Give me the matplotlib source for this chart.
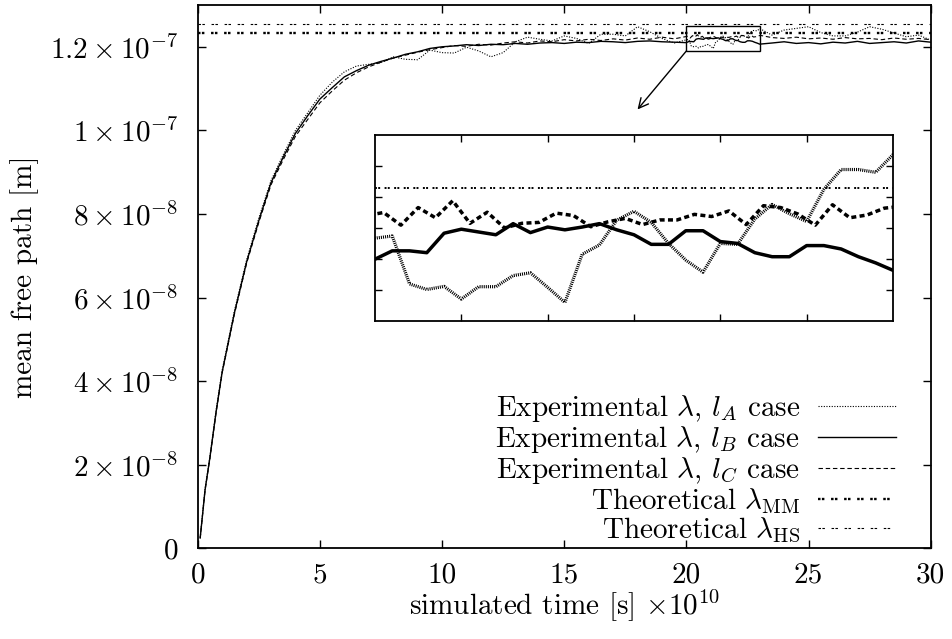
import numpy as np
import matplotlib
matplotlib.use('Agg')
import matplotlib.pyplot as plt
from matplotlib.patches import Rectangle

plt.rcParams['font.family'] = 'serif'
plt.rcParams['font.serif'] = ['cmr10']
plt.rcParams['mathtext.fontset'] = 'cm'
plt.rcParams['axes.unicode_minus'] = False
plt.rcParams['lines.scale_dashes'] = False

# tempos de amostragem (x 1e-10 s)
t_inicio = np.r_[0.1, 0.3, 0.5, 0.75, np.arange(1.0, 19.51, 0.5)]
t_zoom = np.linspace(20.0, 23.0, 31)
t_zoom_c = np.linspace(19.95, 23.05, 32)
t_fim = np.arange(23.5, 30.01, 0.5)

# livre caminho medio em nm
lA_inicio = [2.6, 14.3, 22.0, 33.0, 42.6, 56.8, 69.0, 79.0, 88.0, 94.2, 100.0, 104.2,
             108.4, 111.5, 114.0, 115.4, 115.8, 116.2, 117.6, 117.0, 116.9, 119.2,
             118.6, 118.5, 119.9, 119.0, 117.6, 118.6, 121.2, 122.3, 121.8, 121.4,
             122.6, 122.0, 120.8, 123.0, 123.0, 122.6, 124.8, 123.6, 122.0, 120.9]
lA_zoom = [121.67, 121.74, 120.19, 120.01, 120.11, 119.70, 120.10, 120.10, 120.46, 120.55,
           120.08, 119.59, 121.15, 121.45, 122.25, 122.54, 122.18, 121.50, 120.96, 120.57,
           121.50, 121.47, 122.29, 122.76, 122.46, 122.21, 123.25, 123.89, 123.89, 123.80,
           124.37]
lA_fim = [122.8, 124.0, 124.4, 124.8, 123.4, 122.6, 122.6, 123.5, 124.8, 124.2,
          123.3, 122.4, 122.8, 121.6]

lB_inicio = [2.5, 14.0, 21.8, 32.6, 42.2, 56.3, 68.5, 78.4, 87.5, 93.6, 99.3, 103.5,
             107.5, 110.2, 112.8, 114.3, 115.6, 116.5, 117.3, 118.2, 118.8, 119.6,
             120.0, 120.2, 120.5, 120.3, 120.6, 120.5, 120.8, 120.6, 120.9, 121.0,
             120.8, 121.1, 121.0, 121.3, 121.2, 121.0, 121.3, 121.4, 121.2, 121.1]
lB_zoom = [120.99, 121.26, 121.26, 121.20, 121.83, 121.96, 121.87, 121.78, 122.14, 121.85,
           122.03, 121.94, 122.03, 122.14, 121.94, 121.78, 121.47, 121.47, 121.91, 121.91,
           121.56, 121.50, 121.20, 121.07, 121.07, 121.43, 121.43, 121.32, 121.07, 120.87,
           120.63]
lB_fim = [120.9, 121.2, 120.8, 121.0, 120.7, 121.1, 120.9, 121.3, 120.8, 121.0,
          121.2, 120.9, 121.4, 121.1]

lC_inicio = [2.4, 13.9, 21.6, 32.4, 42.0, 56.0, 68.2, 78.0, 87.0, 93.0, 98.6, 102.6,
             106.6, 109.4, 112.0, 113.8, 115.2, 116.3, 117.3, 118.0, 118.7, 119.3,
             119.8, 120.3, 120.1, 120.6, 120.4, 120.9, 121.2, 120.9, 121.4, 121.2,
             121.7, 121.4, 121.8, 121.5, 121.9, 121.6, 122.1, 121.8, 122.3, 121.9]
lC_zoom = [122.4, 122.5, 122.09, 122.66, 122.33, 122.88, 122.15, 122.51, 122.0, 122.15,
           122.18, 122.48, 122.40, 122.04, 122.20, 122.31, 122.11, 122.26, 122.26, 122.44,
           122.37, 122.55, 122.11, 122.72, 122.66, 122.45, 122.09, 122.75, 122.33, 122.42,
           122.64, 122.7]
lC_fim = [122.2, 122.0, 122.3, 121.9, 122.1, 121.8, 122.2, 121.9, 122.0, 121.7,
          122.1, 121.8, 122.0, 121.7]

lambda_mm = 123.28
lambda_hs = 125.4

rotulos = [r'Experimental $\lambda$, $l_A$ case',
           r'Experimental $\lambda$, $l_B$ case',
           r'Experimental $\lambda$, $l_C$ case',
           r'Theoretical $\lambda_{\mathrm{MM}}$',
           r'Theoretical $\lambda_{\mathrm{HS}}$']

y_ticks = [0, 2e-8, 4e-8, 6e-8, 8e-8, 1e-7, 1.2e-7]
y_rotulos = [r'$0$', r'$2\times10^{-8}$', r'$4\times10^{-8}$', r'$6\times10^{-8}$',
             r'$8\times10^{-8}$', r'$1\times10^{-7}$', r'$1.2\times10^{-7}$']

tA = np.r_[t_inicio, t_zoom, t_fim]
tC = np.r_[t_inicio, t_zoom_c, t_fim]
yA = np.r_[lA_inicio, lA_zoom, lA_fim] * 1e-9
yB = np.r_[lB_inicio, lB_zoom, lB_fim] * 1e-9
yC = np.r_[lC_inicio, lC_zoom, lC_fim] * 1e-9

fs = 21

fig = plt.figure(figsize=(9.53, 6.39), dpi=100)
ax = fig.add_axes([0.2075, 0.1419, 0.7691, 0.8503])

ax.plot(tA, yA, color='black', lw=0.8, ls=(0, (0.8, 1.1)), label=rotulos[0])
ax.plot(tA, yB, color='black', lw=1.0, ls='-', label=rotulos[1])
ax.plot(tC, yC, color='black', lw=0.8, ls=(0, (3.2, 2.0)), label=rotulos[2])
ax.axhline(lambda_mm * 1e-9, color='black', lw=1.7, ls=(0, (1.8, 1.0, 1.8, 4.8)), label=rotulos[3])
ax.axhline(lambda_hs * 1e-9, color='black', lw=0.8, ls=(0, (1.8, 1.0, 1.8, 4.8)), label=rotulos[4])

ax.set_xlim(0, 30)
ax.set_ylim(0, 1.3e-7)
ax.set_xticks([0, 5, 10, 15, 20, 25, 30])
ax.set_yticks(y_ticks)
ax.set_yticklabels(y_rotulos)
ax.tick_params(direction='in', top=True, right=True, length=6, width=1.0, labelsize=fs)
ax.tick_params(axis='y', pad=14)
ax.tick_params(axis='x', pad=10)
for s in ax.spines.values():
    s.set_linewidth(1.3)

ax.set_xlabel(r'simulated time [s] $\times10^{10}$', fontsize=fs, labelpad=-1)
ax.set_ylabel('mean free path [m]', fontsize=fs, labelpad=8)

leg = ax.legend(loc='lower right', frameon=False, markerfirst=False, fontsize=fs,
                handlelength=2.7, handletextpad=0.6, labelspacing=0.0,
                borderaxespad=0.0, bbox_to_anchor=(0.969, -0.016))

# caixa e seta da regiao ampliada
x0, x1 = 20, 23
y0, y1 = 119e-9, 125e-9
ax.add_patch(Rectangle((x0, y0), x1 - x0, y1 - y0, fill=False, lw=1.0, color='black'))
ax.annotate('', xy=(18, 105e-9), xytext=(x0, y0),
            arrowprops=dict(arrowstyle='->,head_length=0.7,head_width=0.35',
                            lw=1.0, color='black', shrinkA=0, shrinkB=0))

# grafico ampliado
axi = fig.add_axes([0.3935, 0.4981, 0.5435, 0.2903])
axi.plot(tA, yA, color='black', lw=2.3, ls=(0, (0.75, 0.75)))
axi.plot(tA, yB, color='black', lw=2.5, ls='-')
axi.plot(tC, yC, color='black', lw=2.5, ls=(0, (3.6, 2.4)))
axi.axhline(lambda_mm * 1e-9, color='black', lw=1.4, ls=(0, (1.4, 0.9, 1.4, 3.2)))
axi.axhline(lambda_hs * 1e-9, color='black', lw=0.8, ls=(0, (1.8, 1.0, 1.8, 4.8)))
axi.set_xlim(x0, x1)
axi.set_ylim(y0, y1)
axi.set_xticks(np.arange(20.5, 23.0, 0.5))
axi.set_yticks(np.arange(120e-9, 124.5e-9, 1e-9))
axi.tick_params(direction='in', top=True, right=True, length=5, width=1.0,
                labelbottom=False, labelleft=False)
for s in axi.spines.values():
    s.set_linewidth(1.3)

fig.savefig('out.png', dpi=100, facecolor='white')
